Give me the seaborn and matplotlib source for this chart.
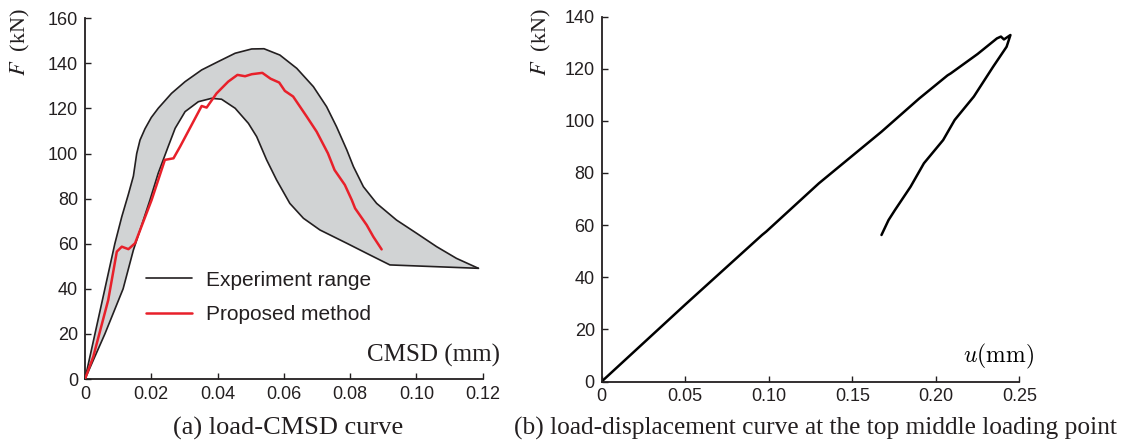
import numpy as np
import pandas as pd
import matplotlib
matplotlib.use("Agg")
import matplotlib.pyplot as plt
import seaborn as sns

# ---- (a) load-CMSD: experimental envelope and proposed-method curve ----
env_upper_cmsd = [0.0, 0.0030, 0.0060, 0.0090, 0.0111, 0.0131, 0.0146, 0.0156, 0.0166,
                  0.0181, 0.0200, 0.0221, 0.0261, 0.0302, 0.0352, 0.0402, 0.0453,
                  0.0503, 0.0540, 0.0588, 0.0639, 0.0689, 0.0729, 0.0759, 0.0790,
                  0.0810, 0.0840, 0.0880, 0.0940, 0.1001, 0.1061, 0.1121, 0.1187]
env_upper_load = [0.0, 20.0, 40.0, 60.0, 72.0, 82.0, 90.0, 100.0, 106.0,
                  111.0, 116.0, 120.1, 126.7, 131.9, 137.1, 140.8, 144.5,
                  146.4, 146.5, 143.7, 137.8, 129.7, 120.8, 111.9, 101.6,
                  94.2, 85.3, 77.9, 70.5, 64.6, 58.7, 53.5, 49.1]

env_lower_cmsd = [0.0, 0.0060, 0.0115, 0.0146, 0.0175, 0.0196, 0.0221, 0.0251, 0.0272,
                  0.0302, 0.0342, 0.0382, 0.0412, 0.0453, 0.0493, 0.0518, 0.0548,
                  0.0578, 0.0618, 0.0659, 0.0709, 0.0790, 0.0860, 0.0920, 0.1187]
env_lower_load = [0.0, 20.0, 40.0, 57.2, 70.0, 79.4, 91.3, 103.1, 111.2,
                  118.6, 123.0, 124.5, 124.1, 120.1, 113.4, 107.5, 97.2,
                  88.3, 77.9, 71.3, 66.1, 60.2, 55.0, 50.6, 49.1]

model_cmsd = [0.0, 0.0025, 0.0070, 0.0096, 0.0111, 0.0131, 0.0151, 0.0201, 0.0241,
              0.0267, 0.0287, 0.0352, 0.0367, 0.0397, 0.0432, 0.0460, 0.0483,
              0.0503, 0.0535, 0.0560, 0.0586, 0.0603, 0.0628, 0.0669, 0.0699,
              0.0733, 0.0753, 0.0784, 0.0805, 0.0815, 0.0850, 0.0870, 0.0895]
model_load = [0.0, 9.9, 35.0, 56.5, 58.7, 57.6, 60.2, 79.4, 97.2,
              97.9, 103.1, 121.1, 120.4, 126.7, 131.9, 134.9, 134.3,
              135.2, 135.8, 133.2, 131.5, 127.8, 125.3, 116.4, 109.7,
              100.1, 92.7, 86.1, 79.4, 75.7, 68.3, 63.1, 57.5]

# ---- (b) load-displacement at the top middle loading point ----
disp_u = [0.0, 0.050, 0.0960, 0.0985, 0.1300, 0.1675, 0.1900, 0.2070, 0.2090,
          0.2250, 0.2366, 0.2390, 0.2408, 0.2447, 0.2424, 0.2344, 0.2228,
          0.2113, 0.2044, 0.1929, 0.1849, 0.1756, 0.1717, 0.1675]
disp_load = [0.0, 29.5, 56.2, 57.5, 76.0, 95.8, 108.5, 117.4, 118.2,
             125.6, 131.6, 132.3, 131.2, 132.9, 128.4, 120.8, 109.3,
             100.3, 92.6, 83.7, 74.7, 65.8, 61.9, 56.2]

sns.set_theme(style="ticks")
plt.rcParams["font.family"] = ["Liberation Sans", "DejaVu Sans"]
plt.rcParams["mathtext.fontset"] = "stix"

W, H = 1121, 441
fig = plt.figure(figsize=(W / 100, H / 100), dpi=100)
ax1 = fig.add_axes([85 / W, 1 - 379 / H, (482.7 - 85) / W, (379 - 18.3) / H])
ax2 = fig.add_axes([601.7 / W, 1 - 381.5 / H, (1019.3 - 601.7) / W, (381.5 - 16.5) / H])

gray = "#d1d3d4"
red = "#e8202a"
ink = "#231f20"

# envelope band
band_x = list(env_upper_cmsd) + list(env_lower_cmsd[::-1])
band_y = list(env_upper_load) + list(env_lower_load[::-1])
ax1.fill(band_x, band_y, color=gray, lw=0, zorder=1)

up = pd.DataFrame({"x": env_upper_cmsd, "y": env_upper_load})
lo = pd.DataFrame({"x": env_lower_cmsd, "y": env_lower_load})
md = pd.DataFrame({"x": model_cmsd, "y": model_load})
sns.lineplot(data=up, x="x", y="y", sort=False, estimator=None, color=ink,
             lw=1.2, ax=ax1, label="Experiment range", zorder=3)
sns.lineplot(data=lo, x="x", y="y", sort=False, estimator=None, color=ink,
             lw=1.2, ax=ax1, zorder=3)
sns.lineplot(data=md, x="x", y="y", sort=False, estimator=None, color=red,
             lw=1.8, ax=ax1, label="Proposed method", zorder=4)

dd = pd.DataFrame({"u": disp_u, "F": disp_load})
sns.lineplot(data=dd, x="u", y="F", sort=False, estimator=None, color="black",
             lw=1.8, ax=ax2)

ax1.set_xlim(0, 0.12)
ax1.set_ylim(0, 160)
ax1.set_xticks(np.arange(0, 0.1201, 0.02))
ax1.set_xticklabels(["0", "0.02", "0.04", "0.06", "0.08", "0.10", "0.12"])
ax1.set_yticks(np.arange(0, 161, 20))

ax2.set_xlim(0, 0.25)
ax2.set_ylim(0, 140)
ax2.set_xticks(np.arange(0, 0.2501, 0.05))
ax2.set_xticklabels(["0", "0.05", "0.10", "0.15", "0.20", "0.25"])
ax2.set_yticks(np.arange(0, 141, 20))

for ax in (ax1, ax2):
    sns.despine(ax=ax)
    ax.set_xlabel("")
    ax.set_ylabel("")
    ax.tick_params(direction="in", length=4, width=1.0, labelsize=13, pad=5,
                   colors=ink)
    for s in ("left", "bottom"):
        ax.spines[s].set_linewidth(1.3)
        ax.spines[s].set_color(ink)

leg = ax1.legend(loc="center left", bbox_to_anchor=(0.153, 0.226), frameon=False,
                 fontsize=15, handlelength=2.2, handletextpad=0.7,
                 labelspacing=0.75, borderpad=0, borderaxespad=0)
for t in leg.get_texts():
    t.set_color(ink)

serif = ["Liberation Serif", "DejaVu Serif"]
fig.text(20 / W, 1 - 8 / H, r"$F$  (kN)", rotation=90, ha="center", va="top",
         family=serif, fontsize=16, color=ink)
fig.text(541 / W, 1 - 8 / H, r"$F$  (kN)", rotation=90, ha="center", va="top",
         family=serif, fontsize=16, color=ink)
fig.text(500 / W, 1 - 355 / H, "CMSD (mm)", ha="right", va="center",
         family=serif, fontsize=18, color=ink)
fig.text(1034 / W, 1 - 356 / H, r"$u(\mathrm{mm})$", ha="right", va="center",
         fontsize=17, math_fontfamily="cm", color="black")

fig.text(288 / W, 1 - 428 / H, "(a) load-CMSD curve", ha="center", va="center",
         family=serif, fontsize=19, color=ink)
fig.text(815 / W, 1 - 428 / H, "(b) load-displacement curve at the top middle loading point",
         ha="center", va="center", family=serif, fontsize=18.3, color=ink)

fig.savefig("out.png", dpi=100)
